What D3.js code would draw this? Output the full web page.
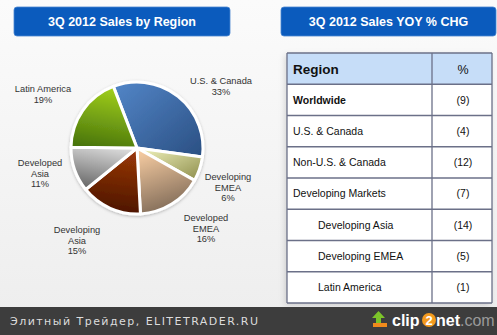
<!DOCTYPE html>
<html>
<head>
<meta charset="utf-8">
<script src="https://cdn.jsdelivr.net/npm/d3@7"></script>
<style>
  html, body { margin: 0; padding: 0; background: #f2f2f2; }
  svg { display: block; }
</style>
</head>
<body>
<svg id="chart" width="497" height="335"></svg>
<script>
// Share of 3Q 2012 sales by region (percent), clockwise from the top
const pieRegions = ["U.S. & Canada", "Developing EMEA", "Developed EMEA", "Developing Asia", "Developed Asia", "Latin America"];
const pieShares  = [33, 6, 16, 15, 11, 19];
const pieLabelLines = [["U.S. & Canada"], ["Developing", "EMEA"], ["Developed", "EMEA"], ["Developing", "Asia"], ["Developed", "Asia"], ["Latin America"]];

// Year-over-year % change by region
const tableRegions = ["Worldwide", "U.S. & Canada", "Non-U.S. & Canada", "Developing Markets", "Developing Asia", "Developing EMEA", "Latin America"];
const tableChanges = [-9, -4, -12, -7, -14, -5, -1];
const tableIndent  = [0, 0, 0, 0, 1, 1, 1];
const tableBold    = [1, 0, 0, 0, 0, 0, 0];

const svg = d3.select("#chart");
const defs = svg.append("defs");

// page background
const bg = defs.append("linearGradient").attr("id", "bg").attr("x1", 0).attr("y1", 0).attr("x2", 0).attr("y2", 1);
bg.append("stop").attr("offset", 0).attr("stop-color", "#fbfbfb");
bg.append("stop").attr("offset", 1).attr("stop-color", "#ededed");
svg.append("rect").attr("width", 497).attr("height", 335).attr("fill", "url(#bg)");

// header buttons
function header(x, w, text) {
  svg.append("rect").attr("x", x).attr("y", 7).attr("width", w).attr("height", 29)
    .attr("rx", 3).attr("fill", "#0b5bbd").attr("stroke", "#4a86d0").attr("stroke-width", 0.8);
  svg.append("text").attr("x", x + w / 2).attr("y", 26).attr("text-anchor", "middle")
    .attr("font-family", "Liberation Sans, Arial, sans-serif").attr("font-weight", "bold")
    .attr("font-size", 12.5).attr("fill", "#ffffff").text(text);
}
header(14, 216, "3Q 2012 Sales by Region");
header(281, 215, "3Q 2012 Sales YOY % CHG");

// ---- pie ----
const cx = 137, cy = 148, r = 66;
const startA = -21 * Math.PI / 180;
const pie = d3.pie().sort(null).value(d => d).startAngle(startA).endAngle(startA + 2 * Math.PI);
const arcs = pie(pieShares);
const arc = d3.arc().innerRadius(0).outerRadius(r);

const sliceColors = [
  ["#5386c8", "#2a4f82"],
  ["#f4f6c0", "#8c8c4a"],
  ["#f4caa0", "#7a6654"],
  ["#9a3808", "#4a1400"],
  ["#d8d8d8", "#666666"],
  ["#a2d01c", "#4a760c"]
];
const gradDirs = [[0, 0, 1, 1], [0, 0, 1, 1], [0.3, 0, 0.6, 1], [0.5, 0, 0.4, 1], [0.6, 0, 0.3, 1], [0.6, 0, 0.4, 1]];
sliceColors.forEach((c, i) => {
  const g = defs.append("linearGradient").attr("id", "sl" + i)
    .attr("x1", gradDirs[i][0]).attr("y1", gradDirs[i][1]).attr("x2", gradDirs[i][2]).attr("y2", gradDirs[i][3]);
  g.append("stop").attr("offset", 0).attr("stop-color", c[0]);
  g.append("stop").attr("offset", 1).attr("stop-color", c[1]);
});

const shadow = defs.append("filter").attr("id", "pieShadow").attr("x", -0.2).attr("y", -0.2).attr("width", 1.4).attr("height", 1.4);
shadow.append("feDropShadow").attr("dx", 0).attr("dy", 1).attr("stdDeviation", 1.5).attr("flood-color", "#000").attr("flood-opacity", 0.25);

const pieG = svg.append("g").attr("transform", `translate(${cx},${cy})`).attr("filter", "url(#pieShadow)");
pieG.selectAll("path").data(arcs).join("path")
  .attr("d", arc)
  .attr("fill", (d, i) => `url(#sl${i})`)
  .attr("stroke", "#ffffff").attr("stroke-width", 3).attr("stroke-linejoin", "round");

// pie labels (centre of first line, in page coordinates)
const labelPos = [[221, 81], [228, 177], [206, 218], [77, 230], [40, 163], [43, 89]];
arcs.forEach((a, i) => {
  const lines = pieLabelLines[i].concat([pieShares[i] + "%"]);
  const t = svg.append("text").attr("text-anchor", "middle")
    .attr("font-family", "Liberation Sans, Arial, sans-serif").attr("font-size", 9.3).attr("fill", "#333333");
  lines.forEach((ln, k) => {
    t.append("tspan").attr("x", labelPos[i][0]).attr("y", labelPos[i][1] + 3.3 + k * 10.3).text(ln);
  });
});

// ---- table ----
const tx0 = 287, tx1 = 432, tx2 = 492;
const rowY = d3.scaleBand().domain(d3.range(tableRegions.length + 1)).range([53, 303]);
const fmt = v => v < 0 ? `(${Math.abs(v)})` : `${v}`;

const tshadow = defs.append("filter").attr("id", "tblShadow").attr("x", -0.1).attr("y", -0.1).attr("width", 1.2).attr("height", 1.2);
tshadow.append("feDropShadow").attr("dx", -2).attr("dy", 2).attr("stdDeviation", 3).attr("flood-color", "#000").attr("flood-opacity", 0.15);

svg.append("rect").attr("x", tx0).attr("y", 53).attr("width", tx2 - tx0).attr("height", 250)
  .attr("fill", "#ffffff").attr("filter", "url(#tblShadow)");
svg.append("rect").attr("x", tx0).attr("y", rowY(0)).attr("width", tx2 - tx0).attr("height", rowY.bandwidth())
  .attr("fill", "#c6ddf8");

const tg = svg.append("g").attr("font-family", "Liberation Sans, Arial, sans-serif").attr("fill", "#111111");
tg.append("text").attr("x", 293).attr("y", rowY(0) + rowY.bandwidth() / 2 + 5)
  .attr("font-size", 13.5).attr("font-weight", "bold").text("Region");
tg.append("text").attr("x", 463).attr("y", rowY(0) + rowY.bandwidth() / 2 + 5).attr("text-anchor", "middle")
  .attr("font-size", 12.5).text("%");

tableRegions.forEach((name, i) => {
  const y = rowY(i + 1) + rowY.bandwidth() / 2 + 3.7;
  tg.append("text").attr("x", tableIndent[i] ? 318 : 293).attr("y", y)
    .attr("font-size", 10.5).attr("font-weight", tableBold[i] ? "bold" : "normal").text(name);
  tg.append("text").attr("x", 463).attr("y", y).attr("text-anchor", "middle")
    .attr("font-size", 10.5).text(fmt(tableChanges[i]));
});

// grid lines
const gl = svg.append("g").attr("stroke", "#6b7088").attr("stroke-width", 1.3).attr("fill", "none");
d3.range(tableRegions.length + 2).forEach(k => {
  const y = k <= tableRegions.length ? rowY(k) : 303;
  gl.append("line").attr("x1", tx0).attr("x2", tx2).attr("y1", y).attr("y2", y);
});
[tx0, tx1, tx2].forEach(x => gl.append("line").attr("x1", x).attr("x2", x).attr("y1", 53).attr("y2", 303));

// ---- footer bar ----
svg.append("rect").attr("x", 0).attr("y", 307).attr("width", 497).attr("height", 28).attr("fill", "#3d3d3d");
svg.append("text").attr("x", 10).attr("y", 325).attr("font-family", "DejaVu Sans, sans-serif")
  .attr("font-size", 11).attr("fill", "#dcdcdc").attr("textLength", 248).attr("lengthAdjust", "spacing")
  .text("Элитный Трейдер, ELITETRADER.RU");

// clip2net mark
const lg = svg.append("g");
lg.append("rect").attr("x", 373).attr("y", 323).attr("width", 14).attr("height", 4).attr("fill", "#f08a1c");
lg.append("path").attr("d", "M376,323 L381,323 L381,318 L385,318 L378.5,311 L372,318 L376,318 Z").attr("fill", "#7cc42a");
const lt = lg.append("text").attr("y", 326).attr("font-family", "Liberation Sans, Arial, sans-serif")
  .attr("font-size", 16).attr("font-weight", "bold");
lt.append("tspan").attr("x", 392).attr("fill", "#ffffff").text("clip");
lg.append("circle").attr("cx", 429).attr("cy", 320).attr("r", 7).attr("fill", "#f39a1e");
lg.append("text").attr("x", 429).attr("y", 325).attr("text-anchor", "middle").attr("font-family", "Liberation Sans, Arial, sans-serif")
  .attr("font-size", 13).attr("font-weight", "bold").attr("fill", "#ffffff").text("2");
const lt2 = lg.append("text").attr("y", 326).attr("font-family", "Liberation Sans, Arial, sans-serif").attr("font-size", 16);
lt2.append("tspan").attr("x", 436).attr("fill", "#ffffff").attr("font-weight", "bold").text("net");
lt2.append("tspan").attr("fill", "#9a9a9a").text(".com");
</script>
</body>
</html>
